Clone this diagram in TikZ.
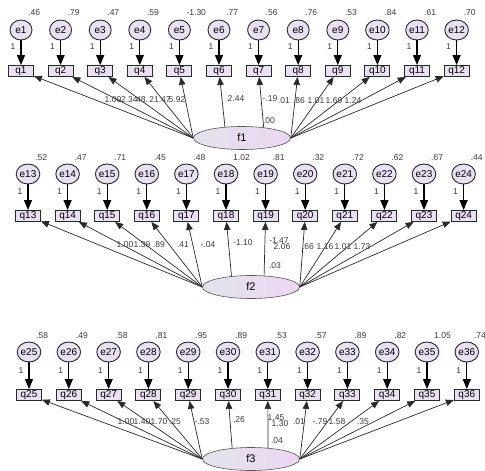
\documentclass[tikz,border=0pt]{standalone}
\usepackage{fontspec}
\setmainfont{Liberation Sans}
\usetikzlibrary{arrows.meta,shapes.geometric}
\definecolor{lav}{HTML}{E9E0F2}
\definecolor{bord}{HTML}{2A2A2A}
\definecolor{numc}{HTML}{3A3A3A}
\definecolor{fl}{HTML}{E2E3EC}
\definecolor{fr}{HTML}{EDD6F2}
\tikzset{
  evar/.style={ellipse, draw=bord, line width=0.9pt, fill=lav, minimum width=22pt, minimum height=20pt, inner sep=0pt, font=\fontsize{10}{10}\selectfont},
  obs/.style={rectangle, draw=bord, line width=0.9pt, fill=lav, minimum width=25pt, minimum height=11pt, inner sep=0pt, font=\fontsize{10}{10}\selectfont},
  fac/.style={ellipse, draw=bord!80, line width=0.6pt, left color=fl, right color=fr, minimum width=97pt, minimum height=23pt, inner sep=0pt, font=\fontsize{11}{11}\selectfont},
  num/.style={font=\fontsize{8.5}{8.5}\selectfont, text=numc, inner sep=0pt},
  errarr/.style={line width=1.2pt, draw=black, -{Triangle[length=10pt,width=8pt]}},
  loadarr/.style={line width=0.7pt, draw=bord, -{Triangle[length=8pt,width=6.5pt]}},
}
\begin{document}
\begin{tikzpicture}[x=1pt,y=-1pt]
\useasboundingbox (0,0) rectangle (485,471);
% ---------- row 1 ----------
\foreach \v [count=\i] in {.46,.79,.47,.59,-1.30,.77,.56,.76,.53,.84,.61,.70}{
  \pgfmathsetmacro\x{21+39.6*(\i-1)}
  \node[evar] (e\i) at (\x,30) {e\i};
  \node[obs] (q\i) at (\x,71) {q\i};
  \node[num, anchor=west] (v\i) at (\x+7,13) {\v};
  \node[num] (o\i) at (\x-8,47) {1};
  \draw[errarr] (e\i) -- (q\i);
}
\node[fac] (f1) at (242,138) {f1};
\foreach \i in {1,...,5}{\draw[loadarr] (f1.west) -- (q\i);}
\draw[loadarr] (f1.147.6) -- (q6);
\draw[loadarr] (f1.26.3) -- (q7);
\foreach \i in {8,...,12}{\draw[loadarr] (f1.east) -- (q\i);}
\foreach \t/\x/\y [count=\i] in {1.00/113/100,-2.34/128/100,48./142/100,21.47/160/100,5.92/177/100,2.44/236/99,-.19/270/99,.01/284/101,.86/299/101,1.01/316/101,1.69/334/101,1.24/353/101}{
  \node[num] (la\i) at (\x,\y) {\t};
}
\node[num] (va1) at (269,121) {.00};
% ---------- row 2 ----------
\foreach \v [count=\i] in {.52,.47,.71,.45,.48,1.02,.81,.32,.72,.62,.67,.44}{
  \pgfmathsetmacro\x{28+39.6*(\i-1)}
  \pgfmathtruncatemacro\k{\i+12}
  \node[evar] (e\k) at (\x,174) {e\k};
  \node[obs] (q\k) at (\x,216) {q\k};
  \node[num, anchor=west] (v\k) at (\x+7,158) {\v};
  \node[num] (o\k) at (\x-8,192) {1};
  \draw[errarr] (e\k) -- (q\k);
}
\node[fac] (f2) at (251,287) {f2};
\foreach \i in {13,...,17}{\draw[loadarr] (f2.west) -- (q\i);}
\draw[loadarr] (f2.151.5) -- (q18);
\draw[loadarr] (f2.41.5) -- (q19);
\foreach \i in {20,...,24}{\draw[loadarr] (f2.east) -- (q\i);}
\foreach \t/\x/\y [count=\i] in {1.00/125/245,1.39/142/245,.89/159/245,.41/183/245,-.04/208/245,-1.10/243/243,-1.47/279/241,2.06/282/247,.66/308/247,1.16/325/247,1.01/343/247,1.73/362/247}{
  \node[num] (lb\i) at (\x,\y) {\t};
}
\node[num] (va2) at (275,266) {.03};
% ---------- row 3 ----------
\foreach \v [count=\i] in {.58,.49,.58,.81,.95,.89,.53,.57,.89,.82,1.05,.74}{
  \pgfmathsetmacro\x{29+39.8*(\i-1)}
  \pgfmathtruncatemacro\k{\i+24}
  \node[evar] (e\k) at (\x,352) {e\k};
  \node[obs] (q\k) at (\x,395) {q\k};
  \node[num, anchor=west] (v\k) at (\x+7,336) {\v};
  \node[num] (o\k) at (\x-8,371) {1};
  \draw[errarr] (e\k) -- (q\k);
}
\node[fac] (f3) at (251,459) {f3};
\foreach \i in {25,...,29}{\draw[loadarr] (f3.west) -- (q\i);}
\draw[loadarr] (f3.150.2) -- (q30);
\draw[loadarr] (f3.33.4) -- (q31);
\foreach \i in {32,...,36}{\draw[loadarr] (f3.east) -- (q\i);}
\foreach \t/\x/\y [count=\i] in {1.00/126/422,1.40/142/422,1.70/159/422,.25/175/422,-.53/202/422,.26/239/420,1.45/276/418,1.30/280/424,.01/299/422,-.79/320/422,1.58/337/422,.35/363/422}{
  \node[num] (lc\i) at (\x,\y) {\t};
}
\node[num] (va3) at (277,441) {.04};
\end{tikzpicture}
\end{document}
